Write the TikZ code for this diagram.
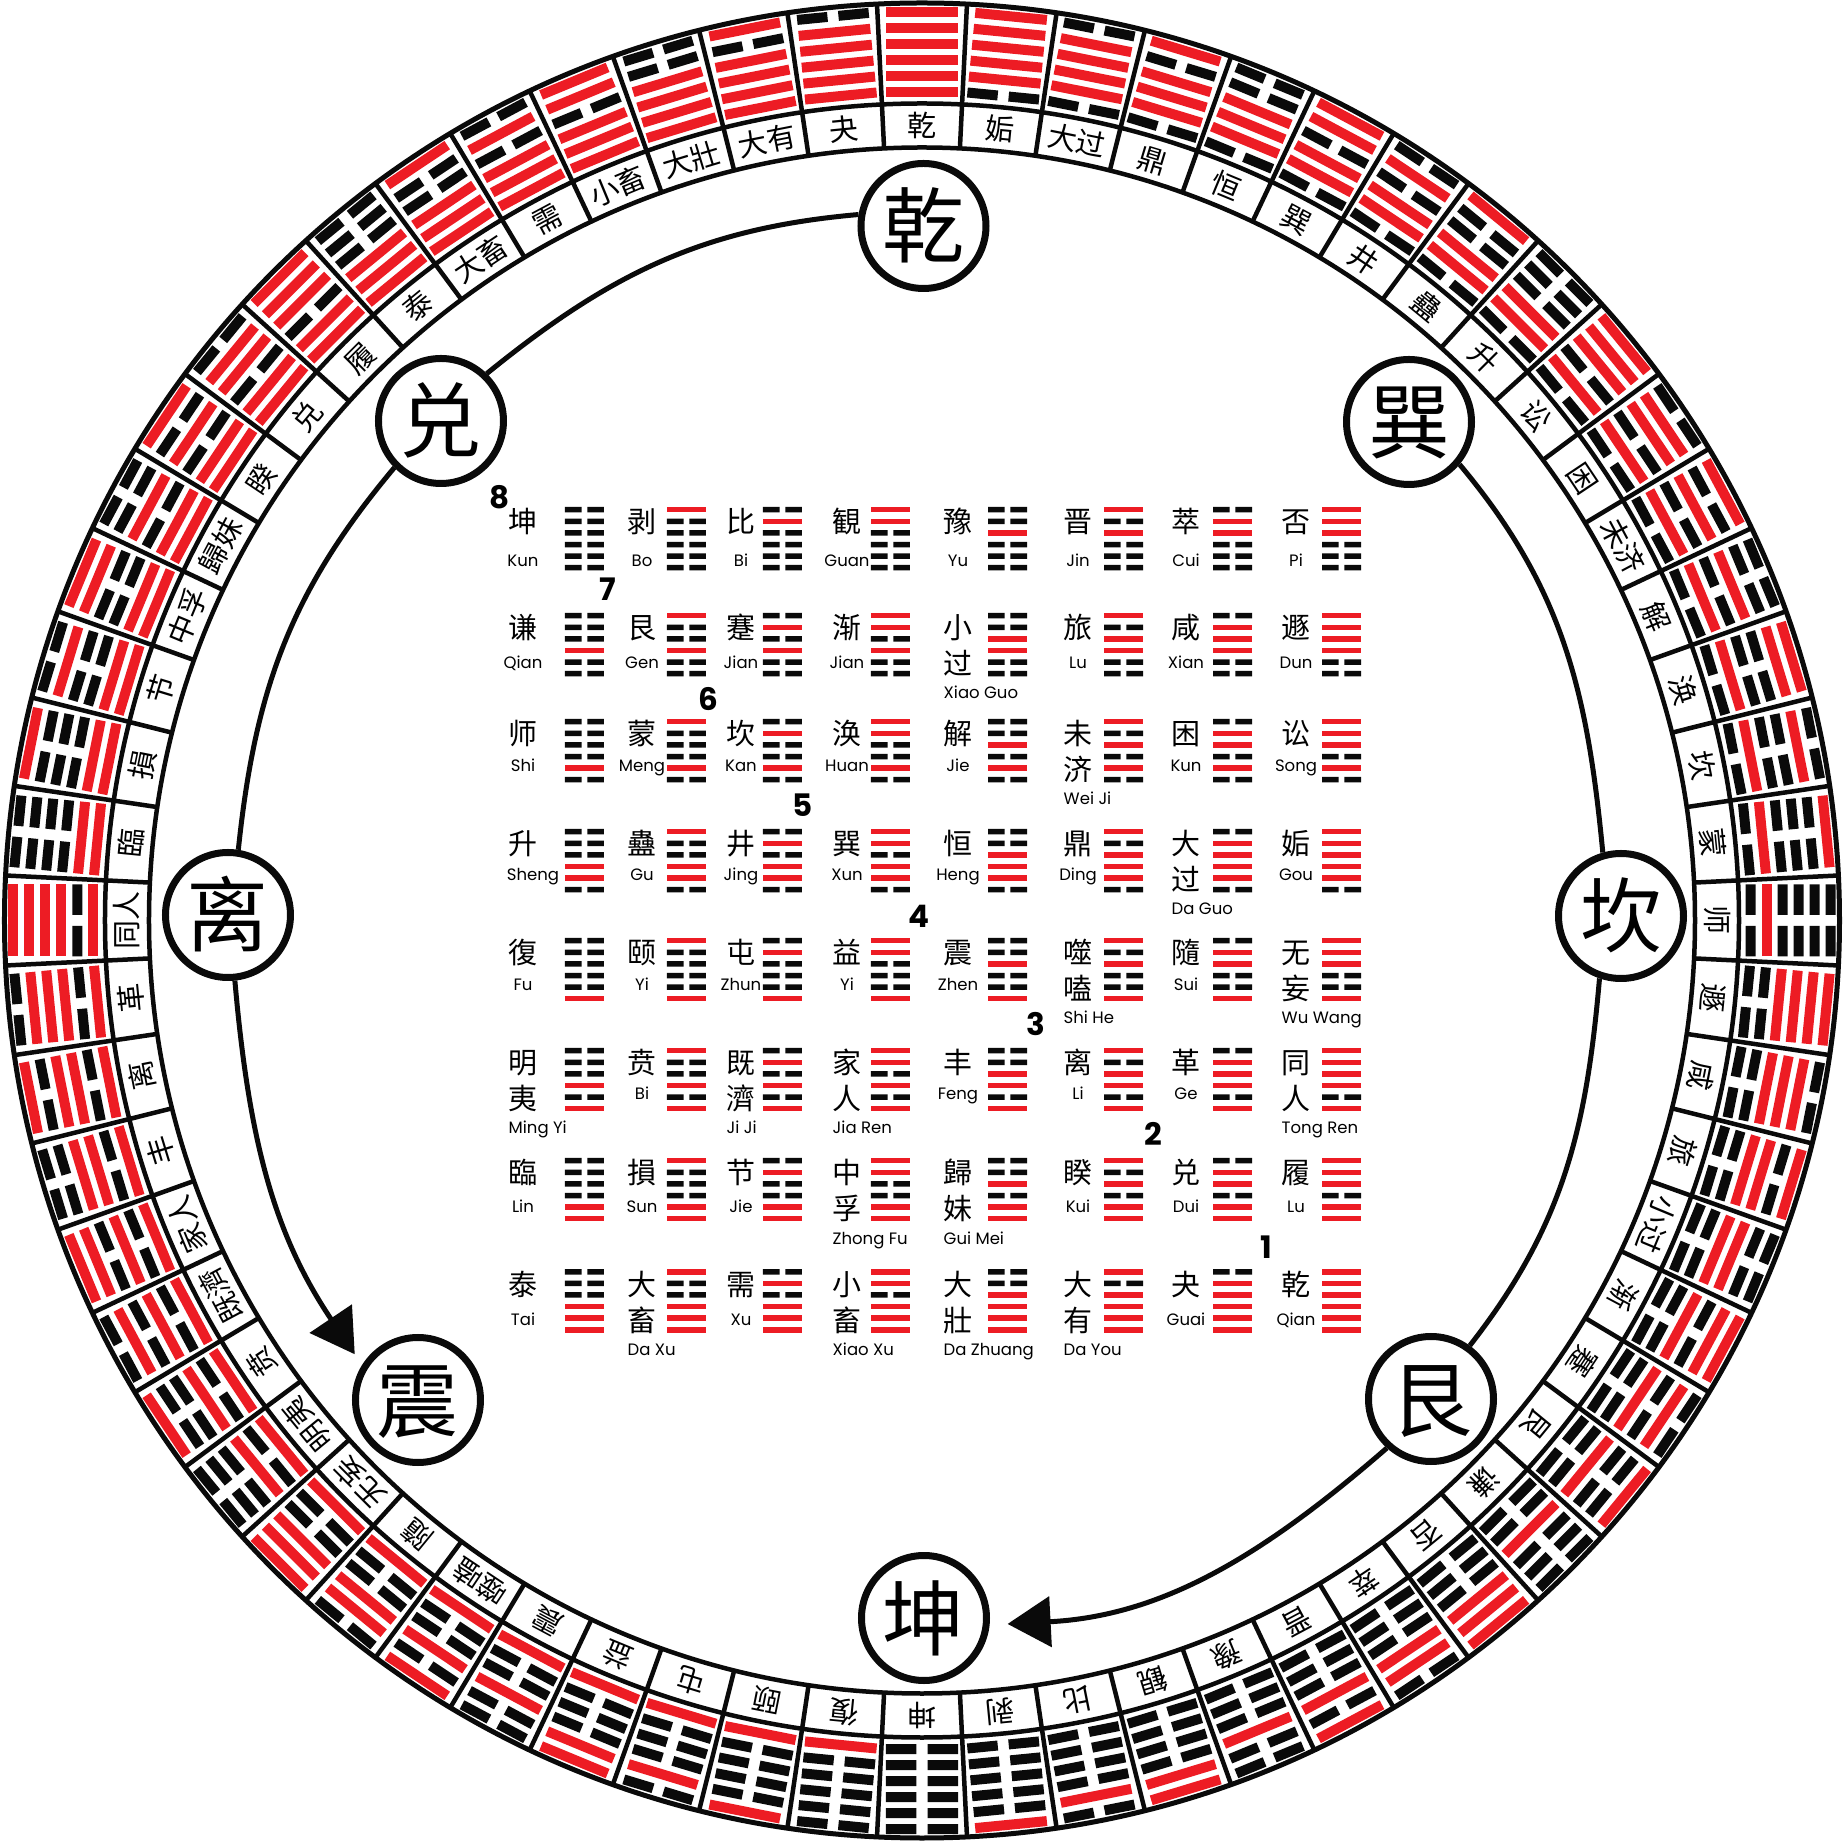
\documentclass[tikz,border=0pt]{standalone}
\usepackage{fontspec}
\usetikzlibrary{arrows.meta}
\newfontfamily\cjk{Noto Sans CJK SC}
\newfontfamily\pin{Poppins}
\definecolor{hred}{HTML}{ED1C24}
\definecolor{hblk}{HTML}{0A0A0A}
\newcommand\hx[4]{\expandafter\def\csname hA#1\endcsname{#2}\expandafter\def\csname hB#1\endcsname{#3}\expandafter\def\csname hP#1\endcsname{#4}}
\hx{0}{坤}{}{Kun}
\hx{1}{剥}{}{Bo}
\hx{2}{比}{}{Bi}
\hx{3}{観}{}{Guan}
\hx{4}{豫}{}{Yu}
\hx{5}{晋}{}{Jin}
\hx{6}{萃}{}{Cui}
\hx{7}{否}{}{Pi}
\hx{8}{谦}{}{Qian}
\hx{9}{艮}{}{Gen}
\hx{10}{蹇}{}{Jian}
\hx{11}{渐}{}{Jian}
\hx{12}{小}{过}{Xiao Guo}
\hx{13}{旅}{}{Lu}
\hx{14}{咸}{}{Xian}
\hx{15}{遯}{}{Dun}
\hx{16}{师}{}{Shi}
\hx{17}{蒙}{}{Meng}
\hx{18}{坎}{}{Kan}
\hx{19}{涣}{}{Huan}
\hx{20}{解}{}{Jie}
\hx{21}{未}{济}{Wei Ji}
\hx{22}{困}{}{Kun}
\hx{23}{讼}{}{Song}
\hx{24}{升}{}{Sheng}
\hx{25}{蠱}{}{Gu}
\hx{26}{井}{}{Jing}
\hx{27}{巽}{}{Xun}
\hx{28}{恒}{}{Heng}
\hx{29}{鼎}{}{Ding}
\hx{30}{大}{过}{Da Guo}
\hx{31}{姤}{}{Gou}
\hx{32}{復}{}{Fu}
\hx{33}{颐}{}{Yi}
\hx{34}{屯}{}{Zhun}
\hx{35}{益}{}{Yi}
\hx{36}{震}{}{Zhen}
\hx{37}{噬}{嗑}{Shi He}
\hx{38}{隨}{}{Sui}
\hx{39}{无}{妄}{Wu Wang}
\hx{40}{明}{夷}{Ming Yi}
\hx{41}{贲}{}{Bi}
\hx{42}{既}{濟}{Ji Ji}
\hx{43}{家}{人}{Jia Ren}
\hx{44}{丰}{}{Feng}
\hx{45}{离}{}{Li}
\hx{46}{革}{}{Ge}
\hx{47}{同}{人}{Tong Ren}
\hx{48}{臨}{}{Lin}
\hx{49}{損}{}{Sun}
\hx{50}{节}{}{Jie}
\hx{51}{中}{孚}{Zhong Fu}
\hx{52}{歸}{妹}{Gui Mei}
\hx{53}{睽}{}{Kui}
\hx{54}{兑}{}{Dui}
\hx{55}{履}{}{Lu}
\hx{56}{泰}{}{Tai}
\hx{57}{大}{畜}{Da Xu}
\hx{58}{需}{}{Xu}
\hx{59}{小}{畜}{Xiao Xu}
\hx{60}{大}{壯}{Da Zhuang}
\hx{61}{大}{有}{Da You}
\hx{62}{夬}{}{Guai}
\hx{63}{乾}{}{Qian}
\tikzset{
  ringlab/.style={font=\cjk\fontsize{29}{29}\selectfont, inner sep=0pt, text height=25.5pt, text depth=3.5pt, transform shape},
  gch/.style={font=\cjk\fontsize{29}{29}\selectfont, inner sep=0pt, anchor=base},
  gpin/.style={font=\pin\fontsize{16.5}{16.5}\selectfont, inner sep=0pt, anchor=base},
  gnum/.style={font=\pin\bfseries\fontsize{31}{31}\selectfont, inner sep=0pt, text height=21.7pt, text depth=0pt},
  tri/.style={circle, draw=hblk, line width=7pt, fill=white, minimum size=125pt, inner sep=0pt, font=\cjk\fontsize{82}{82}\selectfont, text height=72pt, text depth=10pt},
  arcline/.style={line width=5pt, draw=hblk},
  ringline/.style={line width=4.5pt, draw=hblk},
  bigtip/.style={-{Triangle[length=43pt,width=50pt]}}
}
\begin{document}
\begin{tikzpicture}[x=1pt,y=1pt]
\fill[white] (-922,-922.5) rectangle (922,920.5);
\useasboundingbox (-922,-922.5) rectangle (922,920.5);
% ---------- outer ring: hexagram bars and labels
\foreach \i in {0,...,63}{
  \pgfmathsetmacro\ang{90+5.625*\i}
  \pgfmathtruncatemacro\hv{\i<32 ? 63-\i : \i-32}
  \begin{scope}[rotate=\ang-90]
    \foreach \k in {1,...,6}{
      \pgfmathtruncatemacro\bit{mod(floor(\hv/2^(6-\k)),2)}
      \pgfmathsetmacro\rr{828.5+16*(\k-1)}
      \ifnum\bit=1
        \fill[hred] (-36,\rr-5) rectangle (36,\rr+5);
      \else
        \fill[hblk] (-36,\rr-5) rectangle (-5.5,\rr+5) (5.5,\rr-5) rectangle (36,\rr+5);
      \fi
    }
    \node[ringlab] (rl\i) at (0,795) {\csname hA\hv\endcsname\csname hB\hv\endcsname};
  \end{scope}
}
\foreach \i in {0,...,63}{
  \pgfmathsetmacro\bang{92.8125+5.625*\i}
  \draw[ringline] (\bang:773) -- (\bang:917.5);
}
\draw[ringline] (0,0) circle[radius=773];
\draw[ringline] (0,0) circle[radius=817];
\draw[line width=5pt, draw=hblk] (0,0) circle[radius=917.5];
% ---------- central 8x8 grid
\foreach \hv in {0,...,63}{
  \pgfmathtruncatemacro\gr{int(\hv/8)}
  \pgfmathtruncatemacro\gc{\hv-8*\gr}
  \pgfmathsetmacro\cxx{{523,642,741,847,958,1078,1186,1296}[\gc]}
  \pgfmathsetmacro\cx{\cxx-922}
  \pgfmathsetmacro\hll{{565,667,763,871,988,1104,1213,1322}[\gc]}
  \pgfmathsetmacro\hl{\hll-922}
  \pgfmathsetmacro\tyy{{507,613,719,829,938,1048,1158,1269}[\gr]}
  \pgfmathsetmacro\ty{920.5-\tyy}
  \pgfmathsetmacro\pb{{60,56,53,52,53,52,55,56}[\gr]}
  \pgfmathsetmacro\px{\hv==24 ? \cx+10 : \cx}
  \foreach \k in {1,...,6}{
    \pgfmathtruncatemacro\bit{mod(floor(\hv/2^(6-\k)),2)}
    \pgfmathsetmacro\yt{\ty-11.6*(6-\k)}
    \ifnum\bit=1
      \fill[hred] (\hl,\yt) rectangle (\hl+39,\yt-5.5);
    \else
      \fill[hblk] (\hl,\yt) rectangle (\hl+16.7,\yt-5.5) (\hl+22.3,\yt) rectangle (\hl+39,\yt-5.5);
    \fi
  }
  \expandafter\ifx\csname hB\hv\endcsname\empty
    \node[gch] (ga\hv) at (\cx,\ty-26) {\csname hA\hv\endcsname};
    \node[gpin] (gp\hv) at (\px,\ty-\pb) {\csname hP\hv\endcsname};
  \else
    \node[gch] (ga\hv) at (\cx,\ty-26) {\csname hA\hv\endcsname};
    \node[gch] (gb\hv) at (\cx,\ty-62) {\csname hB\hv\endcsname};
    \node[gpin,anchor=base west] (gp\hv) at (\cx-14.5,\ty-86) {\csname hP\hv\endcsname};
  \fi
}
% ---------- diagonal numbers
\node[gnum] (n8) at (-422,422.5) {8};
\node[gnum] (n7) at (-314,330.5) {7};
\node[gnum] (n6) at (-214,220.5) {6};
\node[gnum] (n5) at (-119,114.5) {5};
\node[gnum] (n4) at (-3,3.5) {4};
\node[gnum] (n3) at (114,-104.5) {3};
\node[gnum] (n2) at (231,-214.5) {2};
\node[gnum] (n1) at (344,-327.5) {1};
% ---------- trigram circles
\node[tri] (qian) at (1.5,694.5) {乾};
\node[tri] (dui) at (-481,499.5) {兑};
\node[tri] (li) at (-694,5.5) {离};
\node[tri] (zhen) at (-504,-479.5) {震};
\node[tri] (kun) at (2,-697.5) {坤};
\node[tri] (gen) at (509,-478.5) {艮};
\node[tri] (kan) at (699,4.5) {坎};
\node[tri] (xun) at (487,498.5) {巽};
% ---------- connecting arcs
\draw[arcline] (qian.170) to[out=185, in=39] (dui.46);
\draw[arcline] (dui.225) to[out=230, in=84] (li.81.5);
\draw[arcline, bigtip, shorten >=13pt] (li.276) to[out=275, in=124] (zhen.148.5);
\draw[arcline] (xun.320) to[out=310, in=95.5] (kan.106);
\draw[arcline] (kan.251) to[out=265, in=52] (gen.54.5);
\draw[arcline, bigtip, shorten >=18pt] (gen.228) to[out=221, in=3] (kun.354);
\end{tikzpicture}
\end{document}
